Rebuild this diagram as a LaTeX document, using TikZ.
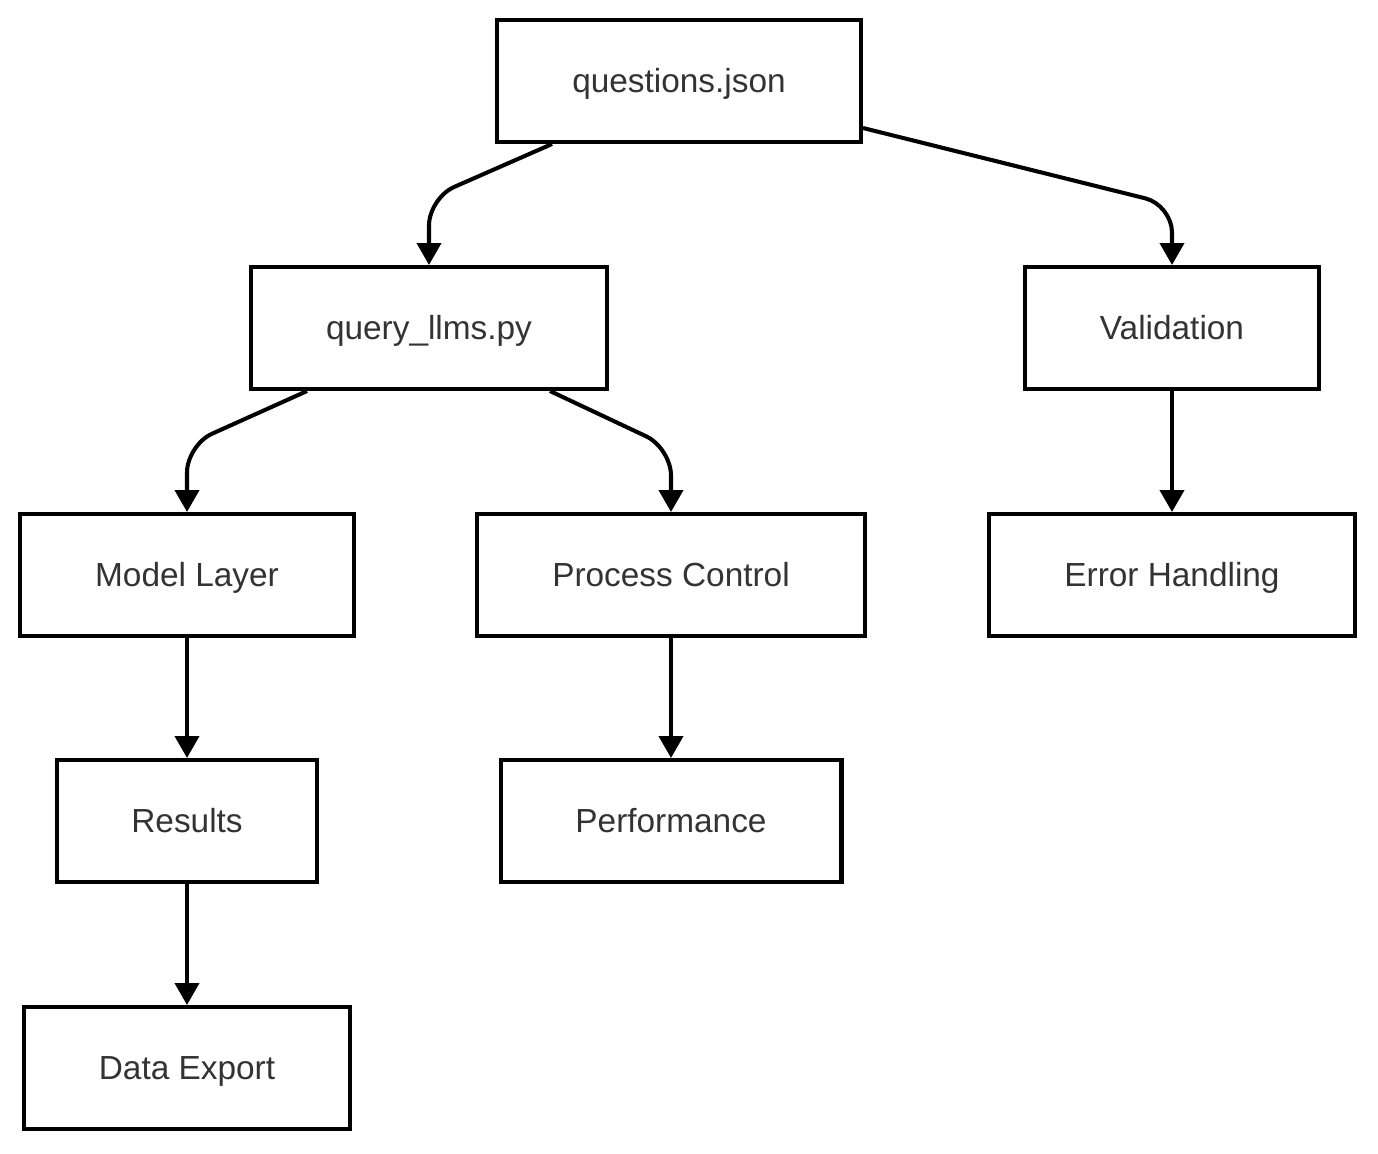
\documentclass[tikz,border=0pt]{standalone}
\usepackage{fontspec}
\setmainfont{Liberation Sans}
\usetikzlibrary{arrows.meta}
\definecolor{txtgray}{HTML}{333333}
\tikzset{
  box/.style={draw, line width=2.3pt, minimum height=2.44cm, inner sep=0pt,
    text height=13.6pt, text depth=0pt,
    font=\fontsize{19}{23}\selectfont, text=txtgray},
  link/.style={line width=2.3pt, rounded corners=0.55cm,
    -{Triangle[width=0.48cm,length=0.44cm]}}
}
\begin{document}
\begin{tikzpicture}[x=0.02cm, y=-0.02cm]
\useasboundingbox (0,0) rectangle (1378,1153);
\node[box, minimum width=7.28cm] (qj) at (679,81) {questions.json};
\node[box, minimum width=7.12cm] (qp) at (429,328) {query\_llms.py};
\node[box, minimum width=5.88cm] (val) at (1172,328) {Validation};
\node[box, minimum width=6.68cm] (ml) at (187,575) {Model Layer};
\node[box, minimum width=7.76cm] (pc) at (671,575) {Process Control};
\node[box, minimum width=7.32cm] (eh) at (1172,575) {Error Handling};
\node[box, minimum width=5.20cm] (res) at (187,821) {Results};
\node[box, minimum width=6.82cm] (perf) at (671,821) {Performance};
\node[box, minimum width=6.52cm] (de) at (187,1068) {Data Export};
\draw[link] ([xshift=-2.54cm]qj.south) -- (429,198) -- (qp.north);
\draw[link] ([yshift=-0.94cm]qj.east) -- (1172,205) -- (val.north);
\draw[link] ([xshift=-2.44cm]qp.south) -- (187,445) -- (ml.north);
\draw[link] ([xshift=2.42cm]qp.south) -- (671,448) -- (pc.north);
\foreach \a/\b in {val/eh, ml/res, pc/perf, res/de}{
\draw[link] (\a) -- (\b);
}
\end{tikzpicture}
\end{document}
